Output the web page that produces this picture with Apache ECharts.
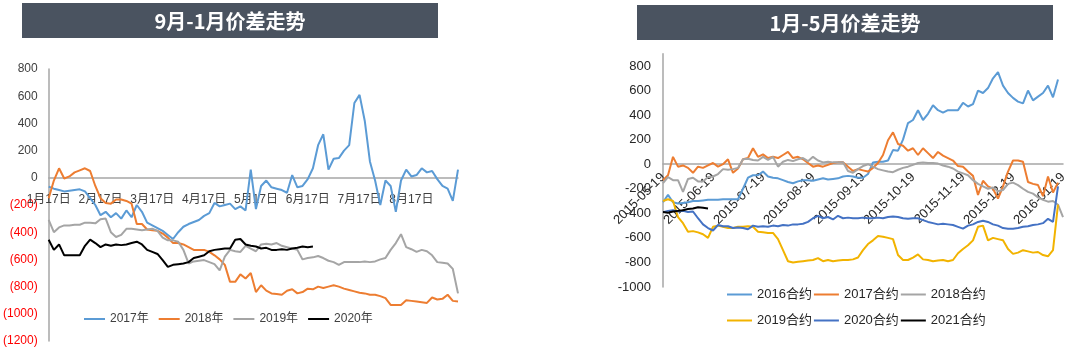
<!DOCTYPE html>
<html>
<head>
<meta charset="utf-8">
<script src="https://cdn.jsdelivr.net/npm/echarts@6/dist/echarts.min.js"></script>
<style>
  html, body { margin: 0; padding: 0; background: #fff; }
  #chart { width: 1071px; height: 352px; }
</style>
</head>
<body>
<div id="chart"></div>
<script>
// 左图：9月-1月价差（每月10个取样点，标签在17日）
const leftDays = [17, 20, 23, 26, 29, 2, 5, 8, 11, 14]
const leftCategories = []
for (let m = 1; m <= 8; m++) {
  leftDays.forEach((d, k) => leftCategories.push((k < 5 ? m : m + 1) + '月' + d + '日'))
}

const left2017 = [-65, -80, -90, -100, -95, -90, -85, -100, -150, -200,
  -275, -250, -290, -260, -300, -240, -290, -200, -250, -330,
  -350, -370, -390, -420, -450, -400, -360, -340, -325, -310,
  -280, -260, -185, -210, -200, -190, -230, -210, -240, 60,
  -230, -60, -20, -70, -80, -90, -110, 20, -70, -60,
  -10, 70, 240, 320, 60, 140, 145, 200, 240, 550,
  610, 420, 120, -20, -200, -20, -60, -250, -20, 60,
  10, 20, 70, 40, 50, -10, -60, -80, -170, 60]

const left2018 = [-150, -20, 70, -5, 10, 40, 55, 70, 50, -60,
  -150, -185, -190, -160, -160, -170, -190, -340, -340, -380,
  -385, -390, -410, -440, -480, -480, -490, -510, -530, -530,
  -530, -545, -570, -600, -640, -765, -765, -710, -740, -700,
  -840, -790, -830, -850, -855, -860, -830, -820, -850, -840,
  -815, -820, -800, -810, -800, -790, -800, -815, -825, -835,
  -845, -850, -860, -860, -870, -885, -935, -935, -935, -900,
  -905, -910, -915, -920, -880, -895, -890, -860, -905, -910]

const left2019 = [-310, -400, -365, -350, -350, -345, -345, -330, -330, -335,
  -305, -300, -400, -435, -420, -375, -375, -380, -385, -380,
  -375, -390, -440, -460, -460, -470, -530, -630, -615, -610,
  -605, -620, -635, -680, -580, -530, -540, -545, -500, -520,
  -540, -490, -485, -490, -480, -500, -510, -520, -530, -600,
  -590, -585, -575, -590, -610, -620, -640, -620, -620, -620,
  -620, -615, -620, -615, -600, -590, -530, -480, -415, -510,
  -525, -545, -530, -540, -570, -620, -625, -630, -670, -850]

const left2020 = [-455, -530, -490, -570, -570, -570, -570, -500, -455, -480,
  -510, -490, -500, -490, -495, -490, -480, -470, -490, -530,
  -545, -560, -605, -655, -640, -635, -630, -620, -590, -580,
  -570, -540, -530, -525, -520, -520, -455, -450, -490, -500,
  -505, -520, -515, -530, -530, -525, -530, -520, -515, -505,
  -510, -505]

const leftNames = ['2017年', '2018年', '2019年', '2020年']
const leftValues = [left2017, left2018, left2019, left2020]
const leftColors = ['#5b9bd5', '#ed7d31', '#a5a5a5', '#000000']

// 右图：1月-5月价差（每月10个取样点，标签在19日）
const rightDays = [19, 22, 25, 28, 1, 4, 7, 10, 13, 16]
const rightMonths = ['2015-05', '2015-06', '2015-07', '2015-08', '2015-09', '2015-10', '2015-11', '2015-12', '2016-01']
const rightCategories = []
for (let k = 0; k < 8; k++) {
  rightDays.forEach((d, j) => rightCategories.push((j < 4 ? rightMonths[k] : rightMonths[k + 1]) + '-' + String(d).padStart(2, '0')))
}
rightCategories.push('2016-01-19')

const r2016 = [-310, -250, -310, -320, -315, -310, -300, -300, -295, -290,
  -290, -290, -285, -285, -285, -285, -200, -110, -90, -90,
  -60, -100, -110, -115, -130, -145, -155, -140, -130, -130,
  -135, -125, -115, -125, -120, -115, -100, -95, -100, -110,
  -110, -80, 15, 20, 20, 30, 115, 110, 200, 335,
  360, 440, 360, 410, 480, 440, 420, 440, 440, 440,
  500, 470, 490, 600, 580, 620, 700, 750, 640, 580,
  540, 510, 495, 600, 520, 550, 580, 640, 545, 690]

const r2017 = [-130, -90, 60, -20, -10, -30, -70, -20, -30, -10,
  10, -20, 0, 40, -70, -35, 40, 50, 130, 60,
  80, 50, 60, 50, 75, 100, 50, 60, 40, 10,
  -20, -10, -20, -5, 10, 15, 15, -20, -55, -40,
  -50, -60, -30, 10, 75, 195, 260, 165, 150, 110,
  130, 75, 130, 90, 50, 100, 70, 50, 30, -15,
  -20, -60, -95, -250, -135, -180, -200, -280, -180, -60,
  30, 30, 20, -145, -160, -170, -260, -100, -230, -150]

const r2018 = [-155, -105, -130, -130, -225, -120, -110, -140, -140, -105,
  -100, -80, -40, -45, -40, -30, 40, 45, 35, 30,
  60, 35, 60, -20, 20, 35, 25, 40, 50, 25,
  60, 30, 15, 20, 15, 15, 15, -55, -70, -40,
  -15, 0, -20, -40, -50, -60, -65, -45, -30, -20,
  -5, 10, 15, 10, 10, 5, -10, -20, -35, -60,
  -75, -90, -130, -160, -180, -200, -190, -220, -210, -160,
  -150, -170, -200, -225, -240, -270, -290, -305, -300, -330, -430]

const r2019 = [-300, -285, -300, -430, -480, -550, -545, -555, -570, -600,
  -510, -500, -510, -520, -520, -510, -510, -505, -510, -550,
  -555, -560, -560, -610, -700, -790, -800, -795, -790, -785,
  -780, -765, -790, -780, -790, -785, -780, -780, -775, -760,
  -700, -650, -620, -585, -590, -600, -610, -740, -780, -780,
  -760, -735, -775, -780, -790, -785, -780, -790, -780, -725,
  -690, -660, -620, -510, -500, -620, -600, -610, -620, -690,
  -730, -720, -700, -710, -720, -715, -740, -750, -700, -330]

const r2020 = [-390, -380, -375, -385, -380, -390, -385, -440, -490, -520,
  -540, -495, -505, -505, -520, -515, -520, -530, -500, -510,
  -505, -510, -500, -505, -495, -500, -490, -490, -485, -470,
  -440, -420, -440, -430, -450, -420, -440, -435, -440, -440,
  -435, -440, -440, -435, -440, -430, -425, -430, -440, -445,
  -440, -440, -455, -470, -480, -490, -485, -490, -495, -510,
  -525, -500, -490, -470, -460, -470, -490, -500, -520, -525,
  -525, -520, -510, -505, -495, -490, -480, -445, -470, -180]

const r2021 = [-390, -395, -385, -380, -375, -365, -360, -350, -355, -360]

const rightNames = ['2016合约', '2017合约', '2018合约', '2019合约', '2020合约', '2021合约']
const rightValues = [r2016, r2017, r2018, r2019, r2020, r2021]
const rightColors = ['#5b9bd5', '#ed7d31', '#a5a5a5', '#f2b300', '#4472c4', '#000000']

const fontFamily = '"Liberation Sans", "Noto Sans CJK SC", sans-serif'

let myChart = echarts.init(document.getElementById('chart'), null, { width: 1071, height: 352 })

let series = []
leftNames.forEach((name, i) => {
  series.push({
    name: name,
    type: 'line',
    xAxisIndex: 0,
    yAxisIndex: 0,
    data: leftValues[i],
    symbol: 'none',
    lineStyle: { width: 2, color: leftColors[i] },
    itemStyle: { color: leftColors[i] }
  })
})
rightNames.forEach((name, i) => {
  series.push({
    name: name,
    type: 'line',
    xAxisIndex: 1,
    yAxisIndex: 1,
    data: rightValues[i],
    symbol: 'none',
    lineStyle: { width: 2, color: rightColors[i] },
    itemStyle: { color: rightColors[i] }
  })
})

let option = {
  animation: false,
  textStyle: { fontFamily: fontFamily },
  graphic: [
    { type: 'rect', shape: { x: 22, y: 3, width: 416, height: 35 }, style: { fill: '#4a5360' } },
    { type: 'text', x: 230, y: 21, style: { text: '9月-1月价差走势', fill: '#fff', font: 'bold 20px "Noto Sans CJK SC", sans-serif', align: 'center', verticalAlign: 'middle' } },
    { type: 'rect', shape: { x: 637, y: 5, width: 416, height: 35 }, style: { fill: '#4a5360' } },
    { type: 'text', x: 845, y: 23, style: { text: '1月-5月价差走势', fill: '#fff', font: 'bold 20px "Noto Sans CJK SC", sans-serif', align: 'center', verticalAlign: 'middle' } }
  ],
  grid: [
    { left: 44, top: 69, width: 414, height: 272 },
    { left: 663, top: 53.7, width: 400, height: 233.3 }
  ],
  legend: [
    {
      data: leftNames, left: 79, top: 308, itemWidth: 21, itemHeight: 2, itemGap: 10, icon: 'rect',
      textStyle: { fontSize: 12, color: '#404040' }
    },
    {
      data: rightNames.slice(0, 3), left: 722, top: 283, itemWidth: 25, itemHeight: 2, itemGap: 2, icon: 'rect',
      textStyle: { fontSize: 13, color: '#262626' }
    },
    {
      data: rightNames.slice(3), left: 722, top: 309, itemWidth: 25, itemHeight: 2, itemGap: 2, icon: 'rect',
      textStyle: { fontSize: 13, color: '#262626' }
    }
  ],
  xAxis: [
    {
      // 轴放到0线位置（距网格底部 1200*0.136 px）
      type: 'category', gridIndex: 0, data: leftCategories, boundaryGap: false,
      offset: -163.2,
      axisLine: { onZero: false, lineStyle: { color: '#a6a6a6', width: 1.5 } },
      axisTick: { show: false },
      axisLabel: { interval: 9, margin: 16, fontSize: 12, color: '#404040' }
    },
    {
      type: 'category', gridIndex: 1, data: rightCategories, boundaryGap: false,
      offset: -122.8,
      axisLine: { onZero: false, lineStyle: { color: '#a6a6a6', width: 1.5 } },
      axisTick: { show: false },
      axisLabel: { interval: 9, rotate: 45, margin: 11, fontSize: 13, color: '#262626' }
    }
  ],
  yAxis: [
    {
      type: 'value', gridIndex: 0, min: -1200, max: 800, interval: 200,
      splitLine: { show: false },
      axisLine: { show: true, lineStyle: { color: '#a6a6a6', width: 1.5 } },
      axisLabel: {
        margin: 11, fontSize: 12, color: '#404040',
        formatter: v => v < 0 ? '{neg|(' + (-v) + ')}' : String(v),
        rich: { neg: { color: '#ff0000', fontSize: 12 } }
      }
    },
    {
      type: 'value', gridIndex: 1, min: -1000, max: 900, interval: 200,
      splitLine: { show: false },
      axisLine: { show: true, lineStyle: { color: '#a6a6a6', width: 1.5 } },
      axisLabel: {
        margin: 12, fontSize: 13, color: '#262626',
        formatter: v => v > 800 ? '' : String(v)
      }
    }
  ],
  series: series
}
myChart.setOption(option)
</script>
</body>
</html>
